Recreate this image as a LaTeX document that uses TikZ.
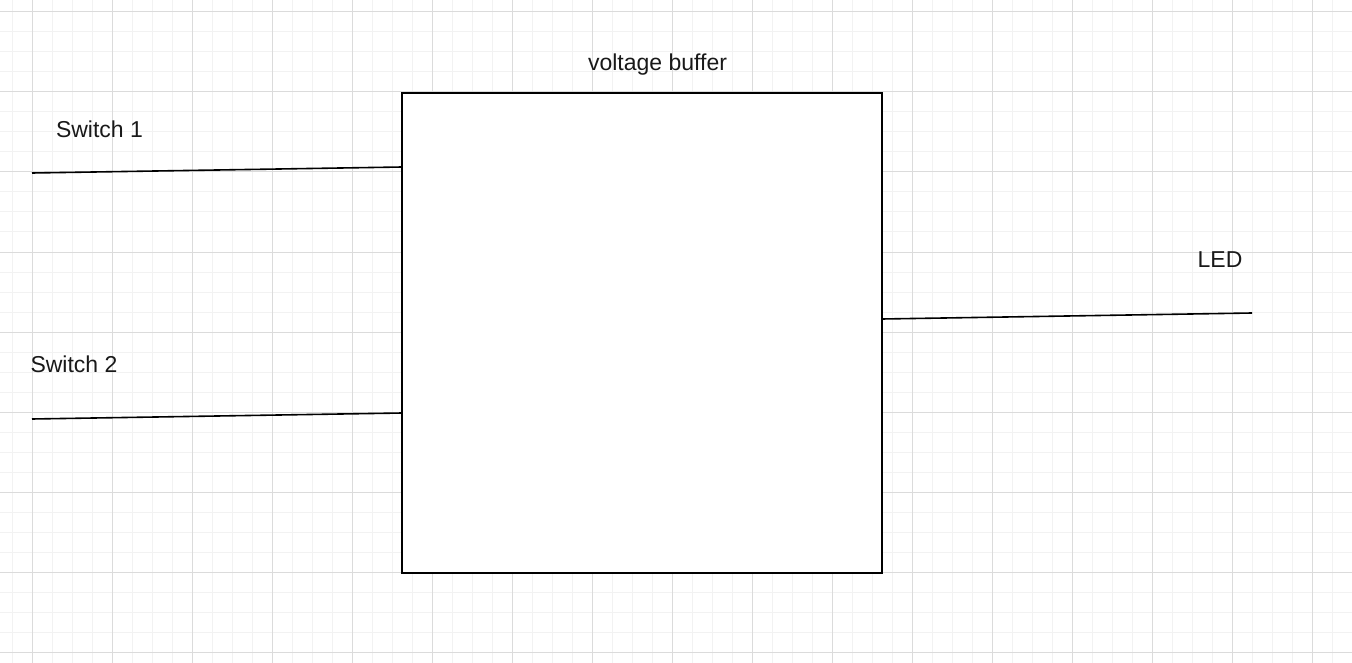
\documentclass[tikz,border=0pt]{standalone}
\usepackage{fontspec}
\setmainfont{Liberation Sans}
\usetikzlibrary{positioning}

\begin{document}
\begin{tikzpicture}[
  x=1pt, y=-1pt,
  every node/.style={
    font=\fontsize{23}{27}\selectfont,
    text=black!90,
    inner sep=0pt
  },
  block node/.style={rectangle, draw=black, line width=2pt, fill=white,
    minimum width=480pt, minimum height=480pt},
  label node/.style={anchor=base},
  myline/.style={draw, line width=1.6pt, black},
  minorgrid/.style={draw=black!5, line width=1pt},
  majorgrid/.style={draw=black!14, line width=1pt}
  ]
\useasboundingbox (0,0) rectangle (1352,663);
% background grid
\foreach \x in {12,32,...,1352} \draw[minorgrid] (\x,0) -- (\x,663);
\foreach \y in {12,32,...,652} \draw[minorgrid] (0,\y) -- (1352,\y);
\foreach \x in {32,112,...,1312} \draw[majorgrid] (\x,0) -- (\x,663);
\foreach \y in {12,92,...,652} \draw[majorgrid] (0,\y) -- (1352,\y);

\node[block node] (buffer) at (642,333) {};
\node[label node] (bufname) at (657.5,70.7) {voltage buffer};
\node[label node] (sw1) at (99.5,138) {Switch 1};
\node[label node] (sw2) at (74,372) {Switch 2};
\node[label node] (led) at (1220,267) {LED};

\coordinate (sw1 in) at (32,173);
\coordinate (sw1 out) at (402,167);
\coordinate (sw2 in) at (32,419);
\coordinate (sw2 out) at (402,413);
\coordinate (led in) at (882,319);
\coordinate (led out) at (1252,313);

\path[myline] (sw1 in) -- (sw1 out)
              (sw2 in) -- (sw2 out)
              (led in) -- (led out);
\end{tikzpicture}
\end{document}
